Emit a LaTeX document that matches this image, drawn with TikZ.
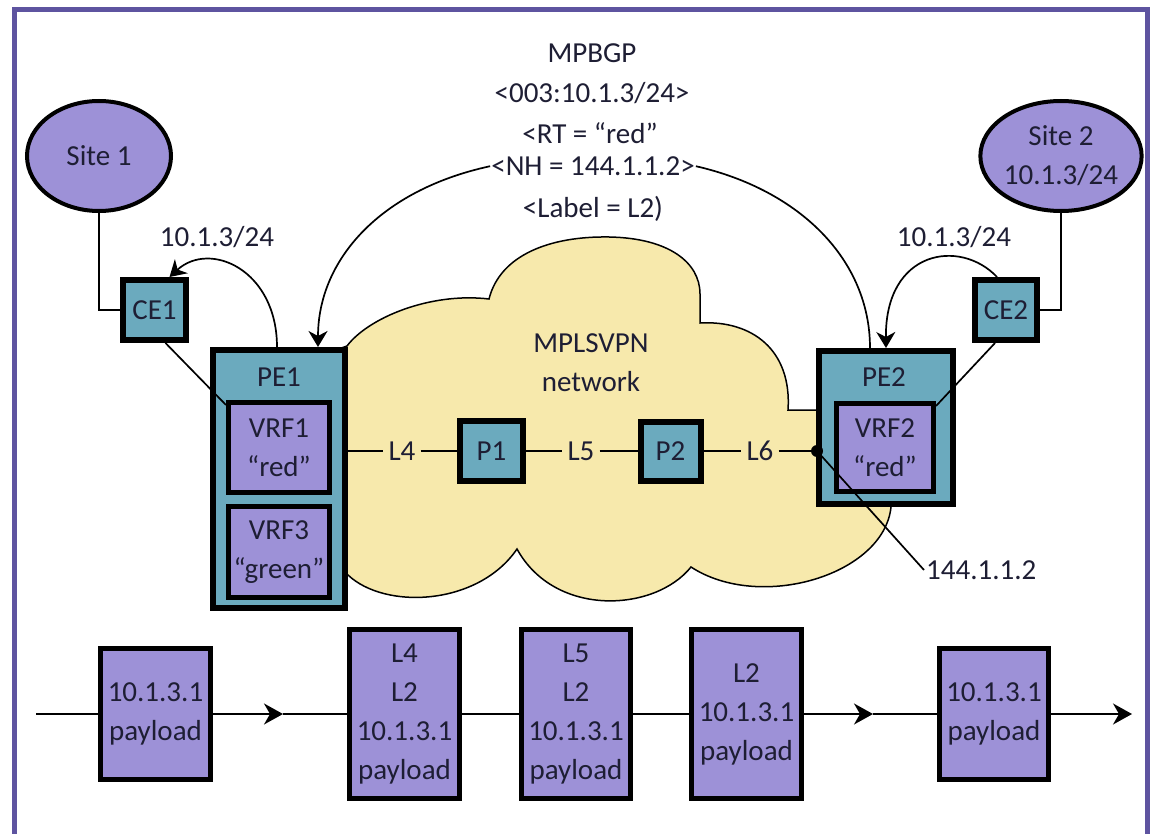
\documentclass[tikz,border=0pt]{standalone}
\usepackage{fontspec}
\setmainfont{Carlito}
\usetikzlibrary{arrows.meta,shapes.geometric,calc}

\definecolor{framec}{RGB}{94,84,160}
\definecolor{lav}{RGB}{157,145,215}
\definecolor{tealc}{RGB}{107,170,190}
\definecolor{cloudc}{RGB}{247,233,172}
\definecolor{ink}{RGB}{30,30,52}

\tikzset{
  txt/.style={font=\fontsize{29}{39}\selectfont, text=ink, align=center, inner sep=5pt},
  sitenode/.style={ellipse, draw=black, line width=4pt, fill=lav, txt,
    minimum width=144pt, minimum height=110pt, inner sep=0pt},
  boxbase/.style={rectangle, draw=black, txt, inner sep=0pt},
  tealbox/.style={boxbase, fill=tealc, line width=6pt},
  lavbox/.style={boxbase, fill=lav, line width=5pt},
  thinline/.style={line width=1.7pt, draw=black},
  arcarrow/.style={thinline, -{Stealth[length=16pt,width=19pt,inset=5pt]}},
  flowarrow/.style={thinline, -{Stealth[length=19pt,width=21pt,inset=6pt]}},
  cloudsty/.style={fill=cloudc, draw=black, line width=1.5pt},
}

\begin{document}
\begin{tikzpicture}[x=1pt,y=-1pt]
\useasboundingbox (0,0) rectangle (1151,834);
\fill[white] (0,0) rectangle (1151,834);

% outer frame
\draw[framec, line width=5pt] (14.5,850) -- (14.5,9.5) -- (1147,9.5) -- (1147,850);

% provider cloud
\path[cloudsty] (330,352) -- (347,346)
  .. controls (368,318) and (430,292) .. (489,299)
  .. controls (500,255) and (550,236) .. (609,237)
  .. controls (668,238) and (700,262) .. (700,294)
  -- (700,323)
  .. controls (752,320) and (792,350) .. (788,410)
  -- (830,410) -- (900,410) -- (891,507)
  .. controls (884,575) and (760,612) .. (691,567)
  .. controls (655,612) and (555,618) .. (517,549)
  .. controls (478,606) and (385,610) .. (348,575)
  -- (330,570) -- cycle;

% MP-BGP update text
\node[txt, anchor=base] (mp1) at (592,62.5) {MPBGP};
\node[txt, anchor=base] (mp2) at (592,102.5) {<003:10.1.3/24>};
\node[txt, anchor=base] (mp3) at (590,143.5) {<RT = “red”};
\node[txt, anchor=base, inner sep=1pt] (mp4) at (593,175.5) {<NH = 144.1.1.2>};
\node[txt, anchor=base] (mp5) at (593,217.5) {<Label = L2)};

% customer sites
\node[sitenode] (site1) at (99,156) {Site 1};
\node[sitenode] (site2) at (1061,156) {Site 2\\10.1.3/24};

% CE routers
\node[tealbox, minimum width=63pt, minimum height=60pt] (ce1) at (154.5,310) {CE1};
\node[tealbox, minimum width=62pt, minimum height=60pt] (ce2) at (1006,310) {CE2};

% route advertisements between CE and PE
\node[txt] (adv1) at (217,237) {10.1.3/24};
\node[txt] (adv2) at (954,237) {10.1.3/24};

% PE routers with their VRFs
\node[tealbox, minimum width=132pt, minimum height=258pt] (pe1) at (279,479) {};
\node[txt] (pe1t) at (279,377) {PE1};
\node[lavbox, minimum width=101pt, minimum height=90pt] (vrf1) at (279,447.5) {VRF1\\“red”};
\node[lavbox, minimum width=101pt, minimum height=91pt] (vrf3) at (279,552) {VRF3\\“green”};

\node[tealbox, minimum width=134pt, minimum height=153pt] (pe2) at (886,427.5) {};
\node[txt] (pe2t) at (884,377) {PE2};
\node[lavbox, minimum width=97pt, minimum height=88pt] (vrf2) at (885,447.5) {VRF2\\“red”};

% core routers and labels
\node[txt] (cloudt) at (591,363) {MPLSVPN\\network};
\node[tealbox, minimum width=63pt, minimum height=60pt] (p1) at (491.5,451) {P1};
\node[tealbox, minimum width=60pt, minimum height=59pt] (p2) at (670.5,451) {P2};
\node[txt] (l4) at (402,451) {L4};
\node[txt] (l5) at (581,451) {L5};
\node[txt] (l6) at (760,451) {L6};
\coordinate (nh) at (817,451);
\node[txt, anchor=west, inner sep=2pt] (nhlbl) at (924,570) {144.1.1.2};

% label switched path
\draw[thinline] (pe1.east |- l4) -- (l4) -- (p1) -- (l5) -- (p2) -- (l6) -- (nh);
\fill[black] (nh) circle (6pt);
\draw[thinline] (nh) -- (nhlbl.west);

% attachment circuits
\draw[thinline] (site1.south) |- (ce1.west);
\draw[thinline] (site2.south) |- (ce2.east);
\draw[thinline] ([xshift=11pt]ce1.south) -- ([yshift=-5pt]vrf1.north west);
\draw[thinline] ([xshift=-11pt]ce2.south) -- ([yshift=-5pt]vrf2.north east);

% route propagation arcs
\draw[arcarrow] ([xshift=-2pt]pe1.north) .. controls (277,270) and (210,240) .. ([xshift=15pt]ce1.north);
\draw[arcarrow] (mp4.west) .. controls (380,190) and (318,260) .. ([xshift=39pt]pe1.north);
\draw[thinline] (mp4.east) .. controls (800,190) and (870,260) .. ([xshift=-16pt]pe2.north);
\draw[arcarrow] ([xshift=-9pt]ce2.north) .. controls (960,238) and (885,250) .. (pe2.north);

% packets along the path
\node[lavbox, minimum width=110pt, minimum height=131pt] (pk1) at (155.5,714) {10.1.3.1\\payload};
\node[lavbox, minimum width=110pt, minimum height=169pt] (pk2) at (404.5,714) {L4\\L2\\10.1.3.1\\payload};
\node[lavbox, minimum width=109pt, minimum height=169pt] (pk3) at (576,714) {L5\\L2\\10.1.3.1\\payload};
\node[lavbox, minimum width=110pt, minimum height=169pt] (pk4) at (746.5,714) {L2\\10.1.3.1\\payload};
\node[lavbox, minimum width=109pt, minimum height=131pt] (pk5) at (994,714) {10.1.3.1\\payload};

\coordinate (fin) at (36,714);
\coordinate (t1) at (283,714);
\coordinate (t2) at (873,714);
\coordinate (t3) at (1132,714);
\draw[thinline] (fin) -- (pk1.west);
\draw[flowarrow] (pk1.east) -- (t1);
\draw[thinline] (t1) -- (pk2.west);
\draw[thinline] (pk2.east) -- (pk3.west);
\draw[thinline] (pk3.east) -- (pk4.west);
\draw[flowarrow] (pk4.east) -- (t2);
\draw[thinline] (t2) -- (pk5.west);
\draw[flowarrow] (pk5.east) -- (t3);
\end{tikzpicture}
\end{document}
